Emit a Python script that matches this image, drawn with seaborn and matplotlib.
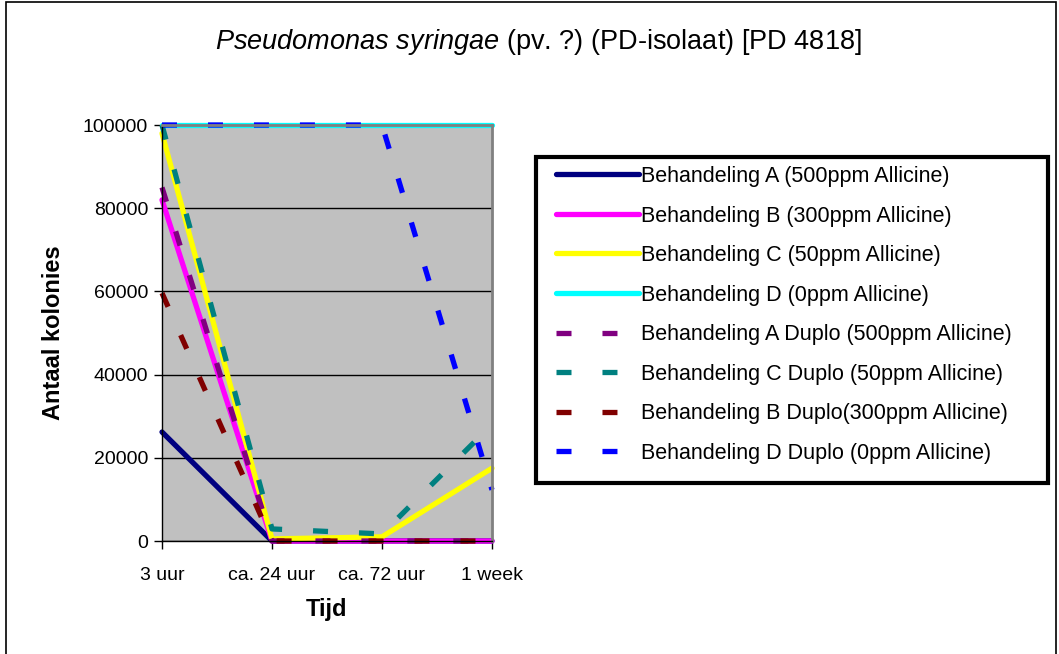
import pandas as pd
import seaborn as sns
import matplotlib.pyplot as plt
from matplotlib.patches import Rectangle

# data
tijd = ["3 uur", "ca. 24 uur", "ca. 72 uur", "1 week"]
reeksen = [
    "Behandeling A (500ppm Allicine)",
    "Behandeling B (300ppm Allicine)",
    "Behandeling C (50ppm Allicine)",
    "Behandeling D (0ppm Allicine)",
    "Behandeling A Duplo (500ppm Allicine)",
    "Behandeling C Duplo (50ppm Allicine)",
    "Behandeling B Duplo(300ppm Allicine)",
    "Behandeling D Duplo (0ppm Allicine)",
]
beh_a = [26200, 0, 0, 0]
beh_b = [82000, 0, 0, 0]
beh_c = [98000, 500, 1000, 17500]
beh_d = [100000, 100000, 100000, 100000]
beh_a_duplo = [85000, 0, 0, 0]
beh_c_duplo = [100000, 2900, 1700, 28000]
beh_b_duplo = [59600, 0, 0, 0]
beh_d_duplo = [100000, 100000, 100000, 12300]
waarden = [beh_a, beh_b, beh_c, beh_d, beh_a_duplo, beh_c_duplo, beh_b_duplo, beh_d_duplo]

kleuren = ["#000080", "#FF00FF", "#FFFF00", "#00FFFF",
           "#800080", "#008080", "#800000", "#0000FF"]

rows = []
for naam, vals in zip(reeksen, waarden):
    for t, v in zip(tijd, vals):
        rows.append({"reeks": naam, "Tijd": t, "waarde": v})
df = pd.DataFrame(rows)

lw = 3.8
dash = (10.8 / lw, 22.3 / lw)
palette = dict(zip(reeksen, kleuren))
dashes = {r: ("" if "Duplo" not in r else dash) for r in reeksen}

sns.set_theme(style="white")
plt.rcParams["font.family"] = ["Liberation Sans", "DejaVu Sans"]
plt.rcParams["mathtext.fontset"] = "custom"
plt.rcParams["mathtext.it"] = "Liberation Sans:italic"
plt.rcParams["mathtext.rm"] = "Liberation Sans"
for k in ["text.color", "axes.labelcolor", "xtick.color", "ytick.color"]:
    plt.rcParams[k] = "black"

fig = plt.figure(figsize=(10.59, 6.54), dpi=100)
ax = fig.add_axes([162 / 1059, 1 - 541 / 654, (492 - 162) / 1059, (541 - 125) / 654])
ax.set_facecolor("#C0C0C0")

sns.lineplot(data=df, x="Tijd", y="waarde", hue="reeks", style="reeks",
             hue_order=reeksen, style_order=reeksen, palette=palette,
             dashes=dashes, linewidth=lw, sort=False, ax=ax, clip_on=False)

ax.set_xlim(0, 3)
ax.set_ylim(0, 100000)
ax.set_yticks(range(0, 100001, 20000))
ax.yaxis.grid(True, color="black", linewidth=1)
ax.xaxis.grid(False)
ax.set_axisbelow(True)
ax.tick_params(axis="both", which="major", length=6, width=1, color="black",
               labelsize=14, direction="out", bottom=True, left=True, pad=4)
ax.tick_params(axis="x", pad=13)
for s in ["left", "bottom"]:
    ax.spines[s].set_color("black")
    ax.spines[s].set_linewidth(1)
for s in ["right", "top"]:
    ax.spines[s].set_color("#808080")
    ax.spines[s].set_linewidth(2)

ax.set_xlabel("Tijd", fontsize=17, fontweight="bold", labelpad=10)
ax.set_ylabel("Antaal kolonies", fontsize=17, fontweight="bold", labelpad=13)

fig.text(538 / 1059, 1 - 42 / 654,
         r"$\it{Pseudomonas\ syringae}$ (pv. ?) (PD-isolaat) [PD 4818]",
         ha="center", va="center", fontsize=19.5)

handles, labels = ax.get_legend_handles_labels()
ax.get_legend().remove()
for h in handles:
    h.set_linewidth(lw)
leg = fig.legend(handles, labels, loc="upper left",
                 bbox_to_anchor=(556 / 1059, 1 - 166 / 654),
                 bbox_transform=fig.transFigure, fontsize=15.5,
                 handlelength=3.85, handletextpad=0.1, labelspacing=0.86,
                 borderpad=0, borderaxespad=0, frameon=False)

# legend box and outer chart border
fig.patches.append(Rectangle((536 / 1059, 1 - 483 / 654), (1048 - 536) / 1059, (483 - 157) / 654,
                             transform=fig.transFigure, fill=False,
                             edgecolor="black", linewidth=3))
fig.patches.append(Rectangle((6 / 1059, -0.05), (1056 - 6) / 1059, 1.05 - 2 / 654,
                             transform=fig.transFigure, fill=False,
                             edgecolor="black", linewidth=1.2))

fig.savefig("out.png", dpi=100)
